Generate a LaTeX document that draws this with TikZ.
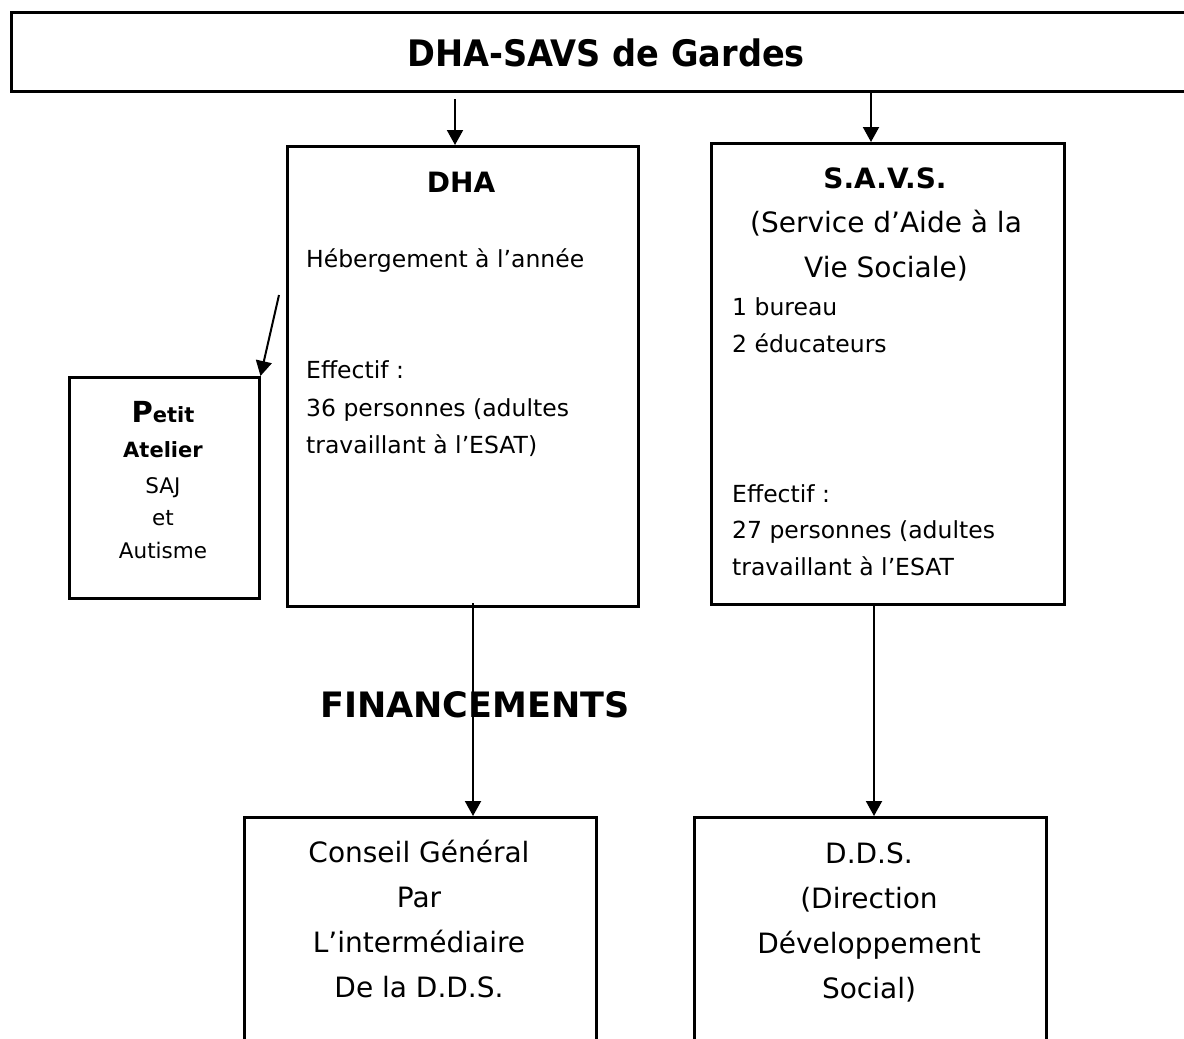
\documentclass[tikz,border=0pt]{standalone}
\usepackage{fontspec}
\setmainfont{DejaVu Sans}
\newfontfamily\titlefont[FakeStretch=0.92]{DejaVu Sans}
\usetikzlibrary{arrows.meta}
\begin{document}
\begin{tikzpicture}[x=1pt,y=-1pt,
  box/.style={draw,line width=2.5pt,inner sep=0pt,anchor=north west},
  arr/.style={line width=2pt,-{Triangle[length=15pt,width=16pt]}},
  body/.style={inner sep=0pt,font=\fontsize{23.5}{28}\selectfont},
  big/.style={inner sep=0pt,font=\fontsize{28}{34}\selectfont},
  hd/.style={inner sep=0pt,font=\bfseries\fontsize{28}{34}\selectfont},
  small/.style={inner sep=0pt,font=\fontsize{21.5}{24}\selectfont},
  smallb/.style={inner sep=0pt,font=\bfseries\fontsize{21}{24}\selectfont},
]
\useasboundingbox (0,0) rectangle (1184,1039);
\clip (0,0) rectangle (1184,1039);
% boxes
\node[box,line width=3pt,minimum width=1190pt,minimum height=79pt] (top) at (10,11) {};
\node[box,minimum width=351pt,minimum height=460pt] (dha) at (286,145) {};
\node[box,minimum width=353pt,minimum height=461pt] (savs) at (710,142) {};
\node[box,minimum width=190pt,minimum height=221pt] (petit) at (68,376) {};
\node[box,minimum width=352pt,minimum height=260pt] (cg) at (243,816) {};
\node[box,minimum width=352pt,minimum height=260pt] (dds) at (693,816) {};
% title
\node[inner sep=0pt,anchor=base,font=\titlefont\bfseries\fontsize{36.5}{40}\selectfont] (title) at (606,66) {DHA-SAVS de Gardes};
% DHA
\node[hd,anchor=base] (dhah) at (461,192) {DHA};
\node[body,anchor=base west] (dha1) at (306,267) {Hébergement à l’année};
\node[body,anchor=base west] (dha2) at (306,378) {Effectif :};
\node[body,anchor=base west] (dha3) at (306,416) {36 personnes (adultes};
\node[body,anchor=base west] (dha4) at (306,453) {travaillant à l’ESAT)};
% SAVS
\node[hd,anchor=base] (savsh) at (885,188) {S.A.V.S.};
\node[big,anchor=base] (savs1) at (886,232) {(Service d’Aide à la};
\node[big,anchor=base] (savs2) at (886,277) {Vie Sociale)};
\node[body,anchor=base west] (savs3) at (732,315) {1 bureau};
\node[body,anchor=base west] (savs4) at (732,352) {2 éducateurs};
\node[body,anchor=base west] (savs5) at (732,502) {Effectif :};
\node[body,anchor=base west] (savs6) at (732,538) {27 personnes (adultes};
\node[body,anchor=base west] (savs7) at (732,575) {travaillant à l’ESAT};
% Petit atelier
\node[smallb,anchor=base] (pa1) at (163,422) {{\fontsize{29}{30}\selectfont P}etit};
\node[smallb,anchor=base] (pa2) at (163,457) {Atelier};
\node[small,anchor=base] (pa3) at (163,493) {SAJ};
\node[small,anchor=base] (pa4) at (163,525) {et};
\node[small,anchor=base] (pa5) at (163,558) {Autisme};
% financements
\node[inner sep=0pt,anchor=base,font=\bfseries\fontsize{35}{40}\selectfont] (fin) at (475,717) {FINANCEMENTS};
% Conseil general
\node[big,anchor=base] (cg1) at (419,862) {Conseil Général};
\node[big,anchor=base] (cg2) at (419,907) {Par};
\node[big,anchor=base] (cg3) at (419,952) {L’intermédiaire};
\node[big,anchor=base] (cg4) at (419,997) {De la D.D.S.};
% DDS
\node[big,anchor=base] (dds1) at (869,863) {D.D.S.};
\node[big,anchor=base] (dds2) at (869,908) {(Direction};
\node[big,anchor=base] (dds3) at (869,953) {Développement};
\node[big,anchor=base] (dds4) at (869,998) {Social)};
% connectors
\coordinate (a1) at (455,99);
\draw[arr] (a1) -- (a1 |- dha.north);
\coordinate (a2) at (871,90);
\draw[arr] (a2) -- (a2 |- savs.north);
\coordinate (a3) at (279,295);
\draw[arr] (a3) -- (petit.north east);
\coordinate (a4) at (473,603);
\draw[arr] (a4) -- (a4 |- cg.north);
\coordinate (a5) at (874,606);
\draw[arr] (a5) -- (a5 |- dds.north);
\end{tikzpicture}
\end{document}
